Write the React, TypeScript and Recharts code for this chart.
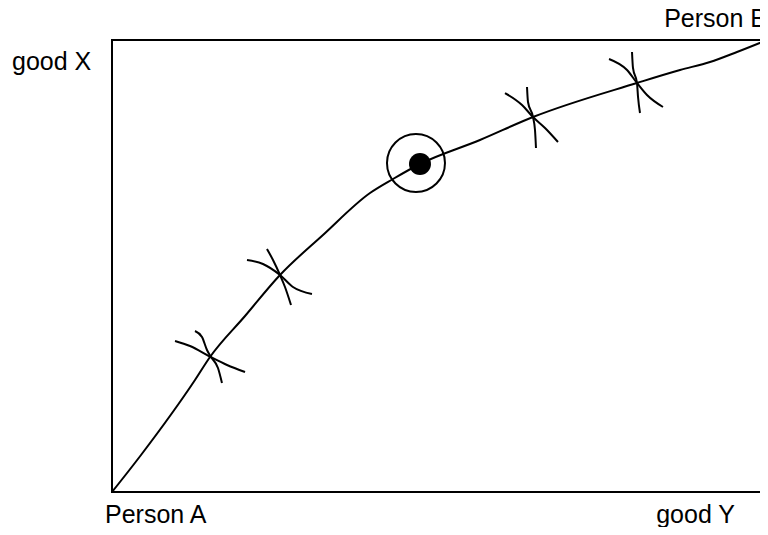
import { LineChart, Line, XAxis, YAxis, ReferenceArea, ReferenceDot } from 'recharts';

// contract curve from Person A (0,0) to Person B (100,100)
const contractX = [0, 4.43, 12.67, 14.96, 20.31, 25.65, 32.21, 39.39, 42.9, 47.02, 56.18, 64.27, 80.15, 86.72, 91.3, 95.42, 100];
const contractY = [0, 8.19, 24.78, 29.87, 38.94, 48.01, 56.86, 66.15, 69.25, 72.57, 77.88, 82.96, 90.49, 93.36, 95.13, 97.35, 100];

// indifference curve pieces crossing at the tangency points
const crossA1X = [9.62, 11.91, 15.07, 17.56, 20.31];
const crossA1Y = [33.41, 32.3, 29.87, 28.1, 26.55];
const crossB1X = [12.67, 13.74, 14.5, 15.11, 16.18, 16.79];
const crossB1Y = [35.62, 34.29, 31.42, 29.87, 27.43, 24.12];
const crossA2X = [20.61, 23.05, 25.65, 27.63, 30.53];
const crossA2Y = [51.33, 50.44, 48.01, 45.35, 43.81];
const crossB2X = [23.66, 24.58, 25.65, 26.41, 27.33];
const crossB2Y = [53.76, 51.33, 48.01, 45.35, 41.37];
const crossA3X = [60.0, 62.6, 64.27, 66.11, 68.09];
const crossA3Y = [88.27, 85.62, 82.96, 80.53, 77.43];
const crossB3X = [63.36, 63.51, 64.27, 64.58, 64.73];
const crossB3Y = [89.6, 86.28, 82.96, 80.09, 76.11];
const crossA4X = [75.88, 78.63, 80.15, 81.68, 84.12];
const crossA4Y = [95.8, 93.36, 90.49, 87.83, 85.18];
const crossB4X = [79.39, 79.54, 80.15, 80.31, 80.61];
const crossB4Y = [97.35, 93.81, 90.49, 87.39, 83.85];

const ringPoint = { x: 46.41, y: 72.79 };
const dotPoint = { x: 47.02, y: 72.57 };

const zip = (xs: number[], ys: number[]) => xs.map((x, i) => ({ x, y: ys[i] }));

const curves = [
  zip(contractX, contractY),
  zip(crossA1X, crossA1Y), zip(crossB1X, crossB1Y),
  zip(crossA2X, crossA2Y), zip(crossB2X, crossB2Y),
  zip(crossA3X, crossA3Y), zip(crossB3X, crossB3Y),
  zip(crossA4X, crossA4Y), zip(crossB4X, crossB4Y),
];

const font = { fontFamily: '"Liberation Sans", Arial, sans-serif', fontSize: 25, fill: '#000' };

export default function App() {
  return (
    <div style={{ position: 'relative', width: 760, height: 519 }}>
      <LineChart width={760} height={519} margin={{ top: 32, right: 1, left: 104, bottom: 35 }}>
        <XAxis type="number" dataKey="x" domain={[0, 100]} hide />
        <YAxis type="number" dataKey="y" domain={[0, 100]} hide />
        <ReferenceArea x1={0} x2={100} y1={0} y2={100} fill="none" stroke="#000" strokeWidth={2} fillOpacity={0} />
        {curves.map((d, i) => (
          <Line
            key={i}
            data={d}
            dataKey="y"
            type="monotone"
            stroke="#000"
            strokeWidth={2}
            dot={false}
            activeDot={false}
            isAnimationActive={false}
          />
        ))}
        <ReferenceDot x={ringPoint.x} y={ringPoint.y} r={29} fill="none" stroke="#000" strokeWidth={2} />
        <ReferenceDot x={dotPoint.x} y={dotPoint.y} r={11} fill="#000" stroke="none" />
      </LineChart>
      <svg width={760} height={519} style={{ position: 'absolute', left: 0, top: 0, pointerEvents: 'none', overflow: 'visible' }}>
        <text x={4} y={62} {...font}>good X</text>
        <text x={759} y={19} textAnchor="end" {...font}>Person B</text>
        <text x={97} y={515} {...font}>Person A</text>
        <text x={727} y={515} textAnchor="end" {...font}>good Y</text>
      </svg>
    </div>
  );
}
